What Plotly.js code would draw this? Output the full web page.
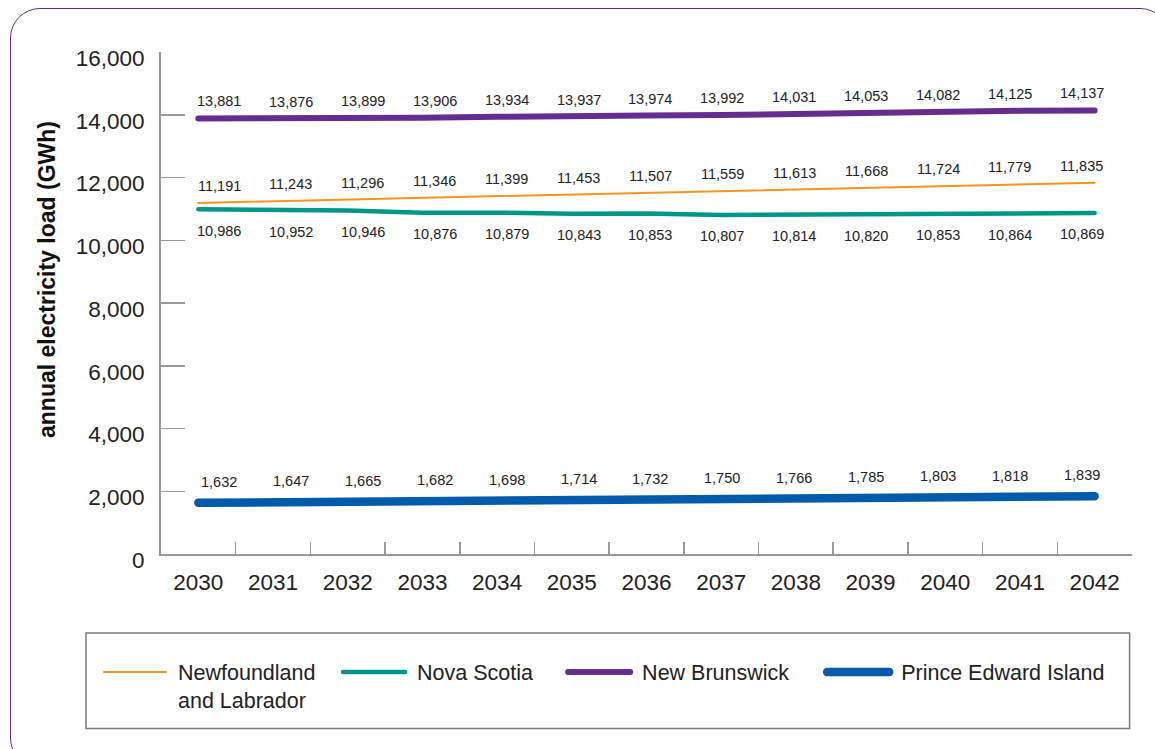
<!DOCTYPE html>
<html>
<head>
<meta charset="utf-8">
<script src="https://cdn.plot.ly/plotly-3.0.1.min.js"></script>
<style>
  html, body { margin: 0; padding: 0; background: #ffffff; }
  #wrap { position: relative; width: 1155px; height: 749px; overflow: hidden; }
  #frame { position: absolute; left: 10px; top: 8px; width: 1160px; height: 760px;
           box-sizing: border-box; border: 1.6px solid #5c2d91; border-radius: 30px; }
  #chart { position: absolute; left: 0; top: 0; width: 1155px; height: 749px; }
  .scatterlayer path.js-line, .legendlines path { stroke-linecap: round; }
  text.legendtext, text.legend2text, text.legend3text, text.legend4text { transform: translateX(7px); }
  g.scrollbox { clip-path: none !important; }
</style>
</head>
<body>
<div id="wrap">
  <div id="frame"></div>
  <div id="chart"></div>
</div>
<script>
// ---- data ----
const years = ["2030","2031","2032","2033","2034","2035","2036","2037","2038","2039","2040","2041","2042"];
const newfoundland = [11191, 11243, 11296, 11346, 11399, 11453, 11507, 11559, 11613, 11668, 11724, 11779, 11835];
const novaScotia   = [10986, 10952, 10946, 10876, 10879, 10843, 10853, 10807, 10814, 10820, 10853, 10864, 10869];
const newBrunswick = [13881, 13876, 13899, 13906, 13934, 13937, 13974, 13992, 14031, 14053, 14082, 14125, 14137];
const pei          = [1632, 1647, 1665, 1682, 1698, 1714, 1732, 1750, 1766, 1785, 1803, 1818, 1839];
const seriesNames = ["Newfoundland<br>and Labrador", "Nova Scotia", "New Brunswick", "Prince Edward Island"];
const yTickVals = [0, 2000, 4000, 6000, 8000, 10000, 12000, 14000, 16000];
const yTickText = ["0", "2,000", "4,000", "6,000", "8,000", "10,000", "12,000", "14,000", "16,000"];
const yTitle = "annual electricity load (GWh)";

// ---- styling ----
const FONT = "'Liberation Sans', Arial, sans-serif";
const M = { l: 161, r: 23.3, t: 51.7, b: 194.7 };
const W = 1155, H = 749;
const PW = W - M.l - M.r, PH = H - M.t - M.b;
const px2x = p => (p - M.l) / PW;
const py2y = p => (H - M.b - p) / PH;

const series = [
  { name: seriesNames[0], y: newfoundland, color: "#f7941d", width: 2,   yshift: 17,    legendX: 104 },
  { name: seriesNames[1], y: novaScotia,   color: "#00968a", width: 4.5, yshift: -21.5, legendX: 343 },
  { name: seriesNames[2], y: newBrunswick, color: "#662d91", width: 6,   yshift: 17,    legendX: 568 },
  { name: seriesNames[3], y: pei,          color: "#005baa", width: 8.5, yshift: 21,    legendX: 827 }
];
const legendKeys = ["legend", "legend2", "legend3", "legend4"];

const traces = series.map((s, k) => ({
  type: "scatter", mode: "lines", x: years, y: s.y, name: s.name,
  line: { color: s.color, width: s.width }, hoverinfo: "skip",
  legend: legendKeys[k]
}));

const annotations = [];
series.forEach(s => {
  s.y.forEach((v, i) => {
    annotations.push({
      x: i, y: v, xref: "x", yref: "y", showarrow: false,
      xanchor: "center", yanchor: "middle",
      text: v.toLocaleString("en-US"),
      font: { family: FONT, size: 14.5, color: "#222" },
      xshift: 20.7 - 2.79 * i, yshift: s.yshift
    });
  });
});
annotations.push({
  xref: "paper", yref: "paper", x: px2x(47), y: py2y(279), showarrow: false,
  xanchor: "center", yanchor: "middle",
  text: "<b>" + yTitle + "</b>", textangle: -90,
  font: { family: FONT, size: 23, color: "#111" }
});

const layout = {
  width: W, height: H,
  margin: M,
  paper_bgcolor: "rgba(0,0,0,0)", plot_bgcolor: "rgba(0,0,0,0)",
  font: { family: FONT, color: "#222" },
  showlegend: true,
  xaxis: {
    type: "category", range: [-0.5, 12.5], fixedrange: true,
    showline: true, linecolor: "#9a9a9a", linewidth: 2,
    ticks: "inside", tickson: "boundaries", ticklen: 12, tickcolor: "#9a9a9a", tickwidth: 1.5,
    showgrid: false, zeroline: false,
    tickfont: { family: FONT, size: 22.5, color: "#222" }, ticklabelstandoff: 7
  },
  yaxis: {
    range: [0, 16000], fixedrange: true,
    tickvals: yTickVals, ticktext: yTickText,
    showline: true, linecolor: "#9a9a9a", linewidth: 2,
    ticks: "inside", ticklen: 24, tickcolor: "#9a9a9a", tickwidth: 1.5,
    showgrid: false, zeroline: false,
    tickfont: { family: FONT, size: 22.5, color: "#222" }, ticklabelstandoff: 10, ticklabelshift: 6
  },
  shapes: [{
    type: "rect", xref: "paper", yref: "paper",
    x0: px2x(86), x1: px2x(1129.3), y0: py2y(729), y1: py2y(633.3),
    line: { color: "#7a7a7a", width: 1.5 }, fillcolor: "rgba(0,0,0,0)", layer: "below"
  }],
  annotations: annotations
};
series.forEach((s, k) => {
  layout[legendKeys[k]] = {
    orientation: "h", x: px2x(s.legendX - 5), xanchor: "left", y: py2y(652), yanchor: "top",
    font: { family: FONT, size: 21.5, color: "#222" },
    bgcolor: "rgba(0,0,0,0)", borderwidth: 0,
    itemwidth: 62, valign: "top"
  };
});

Plotly.newPlot("chart", traces, layout, { displayModeBar: false, staticPlot: true });
</script>
</body>
</html>
